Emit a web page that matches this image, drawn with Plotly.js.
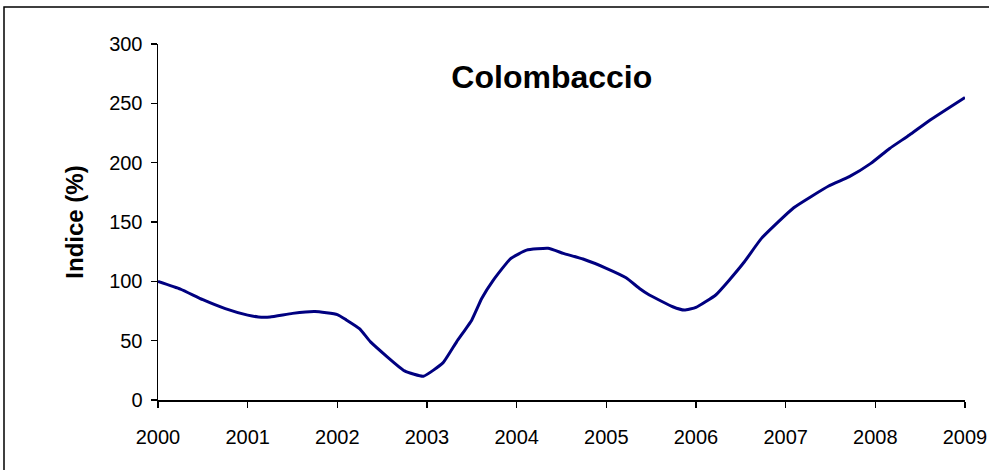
<!DOCTYPE html>
<html>
<head>
<meta charset="utf-8">
<script src="https://cdn.plot.ly/plotly-3.0.1.min.js"></script>
<style>html,body{margin:0;padding:0;background:#fff;}#chart{width:989px;height:470px;}</style>
</head>
<body>
<div id="chart"></div>
<script>
// Data (decimal year, index %)
const years = [2000.00, 2000.25, 2000.50, 2000.75, 2001.00, 2001.12, 2001.25, 2001.50, 2001.75, 2002.00,
  2002.10, 2002.25, 2002.37, 2002.75, 2002.96, 2003.18, 2003.33, 2003.50, 2003.61, 2003.74,
  2003.93, 2004.11, 2004.35, 2004.52, 2004.74, 2005.00, 2005.22, 2005.37, 2005.48, 2005.74,
  2005.87, 2006.00, 2006.22, 2006.37, 2006.54, 2006.73, 2007.09, 2007.48, 2007.71, 2007.95,
  2008.16, 2008.38, 2008.60, 2009.00];
const indice = [100, 93.5, 84.5, 77, 71.5, 70, 70, 73, 74.5, 72,
  67.5, 60, 49, 24.5, 20, 31.5, 49, 67.5, 85.5, 101,
  119, 126.3, 127.8, 123.6, 118.8, 111, 103, 94, 88.5, 78.6,
  75.8, 78, 88.5, 101, 116.5, 136.2, 162, 180.3, 188.2, 199.4,
  212, 223.3, 235.4, 255];
const xTicks = [2000, 2001, 2002, 2003, 2004, 2005, 2006, 2007, 2008, 2009];
const xTickLabels = ['2000', '2001', '2002', '2003', '2004', '2005', '2006', '2007', '2008', '2009'];
const yTicks = [0, 50, 100, 150, 200, 250, 300];
const chartTitle = 'Colombaccio';
const yTitle = 'Indice (%)';

const FONT = 'Arial, "Liberation Sans", sans-serif';

const trace = {
  x: years, y: indice, type: 'scatter', mode: 'lines',
  line: {color: '#000080', width: 3, shape: 'spline', smoothing: 0.4},
  showlegend: false, hoverinfo: 'x+y'
};

const baseX = {
  range: [2000, 2009], tickvals: xTicks, ticktext: xTickLabels,
  showgrid: false, zeroline: false, showline: true, linecolor: '#000', linewidth: 1.5,
  ticks: 'outside', ticklen: 6, tickwidth: 1.5, tickcolor: '#000',
  tickfont: {family: FONT, size: 20, color: '#000'}
};
const baseY = {
  range: [0, 300], tickvals: yTicks,
  showgrid: false, zeroline: false, showline: true, linecolor: '#000', linewidth: 1.5,
  ticks: 'outside', ticklen: 6, tickwidth: 1.5, tickcolor: '#000',
  tickfont: {family: FONT, size: 20, color: '#000'}
};

const layout = {
  width: 989, height: 470,
  margin: {l: 158, r: 24, t: 44, b: 70},
  paper_bgcolor: '#fff', plot_bgcolor: '#fff',
  font: {family: FONT, color: '#000'},
  title: {text: '<b>' + chartTitle + '</b>', font: {family: FONT, size: 32, color: '#000'},
    x: 0.488, xref: 'paper', xanchor: 'center', y: 1 - 77/470, yref: 'container', yanchor: 'middle'},
  xaxis: Object.assign({}, baseX, {ticklabelstandoff: 12}),
  yaxis: Object.assign({}, baseY, {ticklabelstandoff: 4,
    title: {text: '<b>' + yTitle + '</b>', font: {family: FONT, size: 24, color: '#000'}, standoff: 18}}),
  xaxis2: Object.assign({}, baseX, {overlaying: 'x', anchor: 'y', side: 'bottom', ticks: 'inside', showticklabels: false}),
  yaxis2: Object.assign({}, baseY, {overlaying: 'y', anchor: 'x', side: 'left', ticks: 'inside', showticklabels: false}),
  shapes: [{type: 'rect', xref: 'paper', yref: 'paper',
    x0: (4 - 158) / 807, x1: (1000 - 158) / 807, y0: (400 - 480) / 356, y1: (400 - 7) / 356,
    line: {color: '#000', width: 1.5}, fillcolor: 'rgba(0,0,0,0)', layer: 'below'}]
};

Plotly.newPlot('chart', [trace], layout, {displayModeBar: false, staticPlot: true});
</script>
</body>
</html>
